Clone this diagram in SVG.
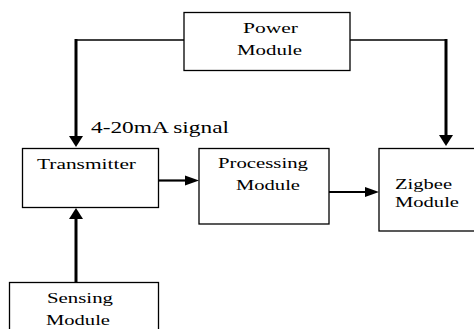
<svg xmlns="http://www.w3.org/2000/svg" width="474" height="329" viewBox="0 0 474 329">
<style>
.box{fill:#fff;stroke:#000;stroke-width:1.3}
.thin{fill:none;stroke:#000;stroke-width:1.3}
.thick{fill:none;stroke:#000;stroke-width:3}
.mid{fill:none;stroke:#000;stroke-width:2.2}
.ah{fill:#000;stroke:none}
</style>
<rect width="474" height="329" fill="#fff"/>
<g font-family="'Liberation Serif', 'DejaVu Serif', serif" font-size="15" fill="#000">
<g id="connectors">
<polyline class="thin" points="184,40 76,40"/>
<line class="thick" x1="76" y1="39" x2="76" y2="137"/>
<polygon class="ah" points="69,136 83,136 76,147"/>
<polyline class="thin" points="350,40 446,40"/>
<line class="thick" x1="446" y1="39" x2="446" y2="136"/>
<polygon class="ah" points="439,135 453,135 446,146"/>
<line class="mid" x1="156" y1="180.5" x2="187" y2="180.5"/>
<polygon class="ah" points="185,175.5 199,180.5 185,185.5"/>
<line class="mid" x1="327" y1="192" x2="367" y2="192"/>
<polygon class="ah" points="365,187 379,192 365,197"/>
<line class="thick" x1="76" y1="282" x2="76" y2="218"/>
<polygon class="ah" points="69,219 83,219 76,208"/>
<text x="91" y="133" font-size="17" textLength="138" lengthAdjust="spacingAndGlyphs">4-20mA signal</text>
</g>
<g id="power">
<rect class="box" x="184" y="12.5" width="166" height="58"/>
<text x="243" y="33" textLength="55" lengthAdjust="spacingAndGlyphs">Power</text>
<text x="237" y="55" textLength="65" lengthAdjust="spacingAndGlyphs">Module</text>
</g>
<g id="transmitter">
<rect class="box" x="22.5" y="148.5" width="136" height="59"/>
<text x="37" y="169" textLength="99" lengthAdjust="spacingAndGlyphs">Transmitter</text>
</g>
<g id="processing">
<rect class="box" x="199" y="148.5" width="130" height="75.5"/>
<text x="218" y="168" textLength="90" lengthAdjust="spacingAndGlyphs">Processing</text>
<text x="236" y="190" textLength="64" lengthAdjust="spacingAndGlyphs">Module</text>
</g>
<g id="zigbee">
<rect class="box" x="379" y="148.5" width="110" height="82.5"/>
<text x="395" y="189" textLength="57" lengthAdjust="spacingAndGlyphs">Zigbee</text>
<text x="395" y="207" textLength="64" lengthAdjust="spacingAndGlyphs">Module</text>
</g>
<g id="sensing">
<rect class="box" x="9.5" y="282.5" width="149" height="60"/>
<text x="47" y="303" textLength="66" lengthAdjust="spacingAndGlyphs">Sensing</text>
<text x="46" y="325" textLength="64" lengthAdjust="spacingAndGlyphs">Module</text>
</g>
</g>
</svg>
